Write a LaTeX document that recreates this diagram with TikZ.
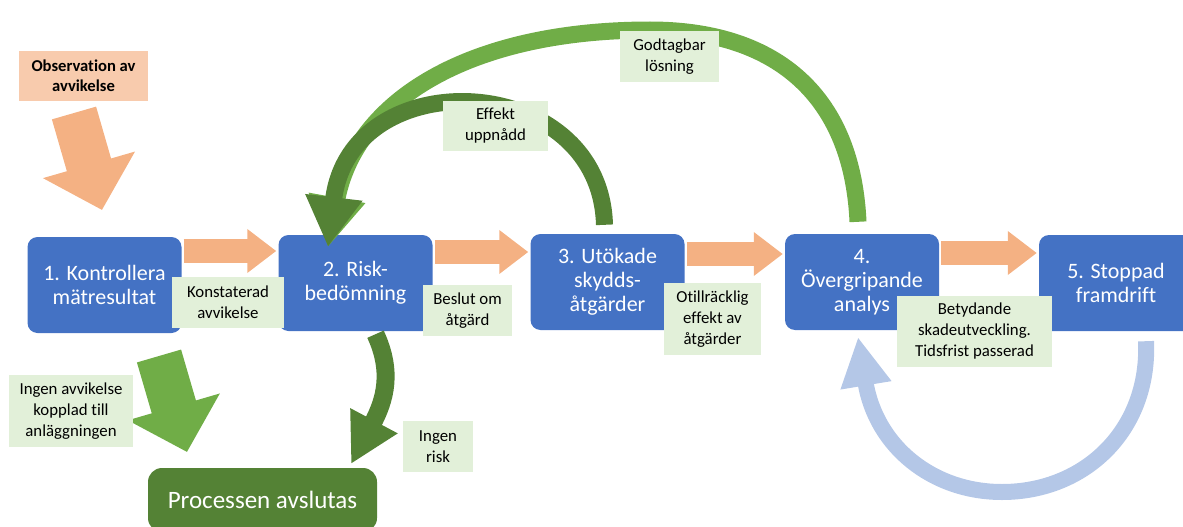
\documentclass[tikz,border=0pt]{standalone}
\usepackage{fontspec}
\setmainfont{Carlito}[Ligatures=NoCommon]
\usetikzlibrary{arrows.meta,positioning,calc}
\definecolor{stegblue}{HTML}{4472C4}
\definecolor{pilorange}{HTML}{F4B183}
\definecolor{ljusgron}{HTML}{70AD47}
\definecolor{morkgron}{HTML}{548235}
\definecolor{ljusbla}{HTML}{B4C7E7}
\definecolor{etikettfarg}{HTML}{E2F0D9}
\definecolor{obsfarg}{HTML}{F8CBAD}

\begin{document}
\begin{tikzpicture}[x=1pt, y=-1pt, every node/.style={font=\fontsize{16.8}{21}\selectfont}]
\tikzset{steg/.style={fill=stegblue, rounded corners=10pt, minimum width=154pt, minimum height=96pt, text=white, align=center, inner sep=0pt, font=\fontsize{22}{24}\selectfont},
  etikett/.style={fill=etikettfarg, align=center, inner sep=0pt},
  pil/.style={line width=24pt, pilorange, shorten <=2pt, shorten >=2pt, -{Triangle[length=29pt, width=42pt]}},
  blockpil/.style={line width=46pt, -{Triangle[length=47pt, width=93pt]}},
  bage/.style={line width=17pt, -{Triangle[length=50pt, width=54pt]}}}
\useasboundingbox (0,0) rectangle (1183,527);
\clip (0,0) rectangle (1183,527);
\node[steg] (s1) at (104.5,285) {1. Kontrollera\\mätresultat};
\node[steg] (s2) at (355.5,283) {2. Risk-\\bedömning};
\node[steg] (s3) at (607.5,282) {3. Utökade\\skydds-\\åtgärder};
\node[steg] (s4) at (862,282) {4.\\Övergripande\\analys};
\node[steg] (s5) at (1116,283) {5. Stoppad\\framdrift};
\node[fill=morkgron, rounded corners=14pt, minimum width=229pt, minimum height=64pt, text=white, font=\fontsize{25}{28}\selectfont] (slut) at (262.5,500) {Processen avslutas};
\node[fill=obsfarg, align=center, inner sep=0pt, minimum width=129pt, minimum height=50pt, font=\fontsize{16.6}{20}\selectfont\bfseries] (obs) at (83.5,76) {Observation av\\avvikelse};
\coordinate (obsstart) at (74,113);
\coordinate (obsslut) at (102,210);
\coordinate (ingenstart) at (159,356);
\coordinate (ingenslut) at (187,452);
\coordinate (s2topp) at (328,247);
\coordinate (slutspets) at (351,464);
\coordinate (s4botten) at (858,337);
\draw[pil] (s1.east |- 0,251) -- (s2.west |- 0,251);
\draw[pil] (s2.east |- 0,252) -- (s3.west |- 0,252);
\draw[pil] (s3.east |- 0,254) -- (s4.west |- 0,254);
\draw[pil] (s4.east |- 0,253) -- (s5.west |- 0,253);
\draw[blockpil, pilorange] (obsstart) -- (obsslut);
\draw[blockpil, ljusgron] (ingenstart) -- (ingenslut);
\draw[bage, ljusgron] ([xshift=-4pt,yshift=12pt]s4.north) .. controls (852,90) and (770,30) .. (650,30) .. controls (470,30) and (355,100) .. (s2topp);
\draw[bage, morkgron] ([xshift=-3pt,yshift=9pt]s3.north) .. controls (600,70) and (350,60) .. (s2topp);
\draw[line width=18pt, morkgron, -{Triangle[length=49pt, width=50pt]}] ([xshift=20pt,yshift=-3pt]s2.south) .. controls (393,372) and (385,400) .. (slutspets);
\draw[line width=16pt, ljusbla, -{Triangle[length=49pt, width=48pt]}] ([xshift=30pt,yshift=-10pt]s5.south) .. controls (1150,430) and (1085,492) .. (1002,492) .. controls (932,492) and (876,446) .. (s4botten);
\node[etikett, minimum width=112pt, minimum height=51pt] (l1) at (228,302.5) {Konstaterad\\avvikelse};
\node[etikett, minimum width=89pt, minimum height=51pt] (l2) at (467.5,310.5) {Beslut om\\åtgärd};
\node[etikett, minimum width=97pt, minimum height=72pt] (l3) at (712.5,319) {Otillräcklig\\effekt av\\åtgärder};
\node[etikett, minimum width=155pt, minimum height=71pt] (l4) at (974.5,331.5) {Betydande\\skadeutveckling.\\Tidsfrist passerad};
\node[etikett, minimum width=105pt, minimum height=50pt] (l5) at (495.5,126) {Effekt\\uppnådd};
\node[etikett, minimum width=99pt, minimum height=51pt] (l6) at (669.5,56.5) {Godtagbar\\lösning};
\node[etikett, minimum width=124pt, minimum height=72pt] (l7) at (71,411) {Ingen avvikelse\\kopplad till\\anläggningen};
\node[etikett, minimum width=70pt, minimum height=51pt] (l8) at (438,446.5) {Ingen\\risk};
\end{tikzpicture}
\end{document}
